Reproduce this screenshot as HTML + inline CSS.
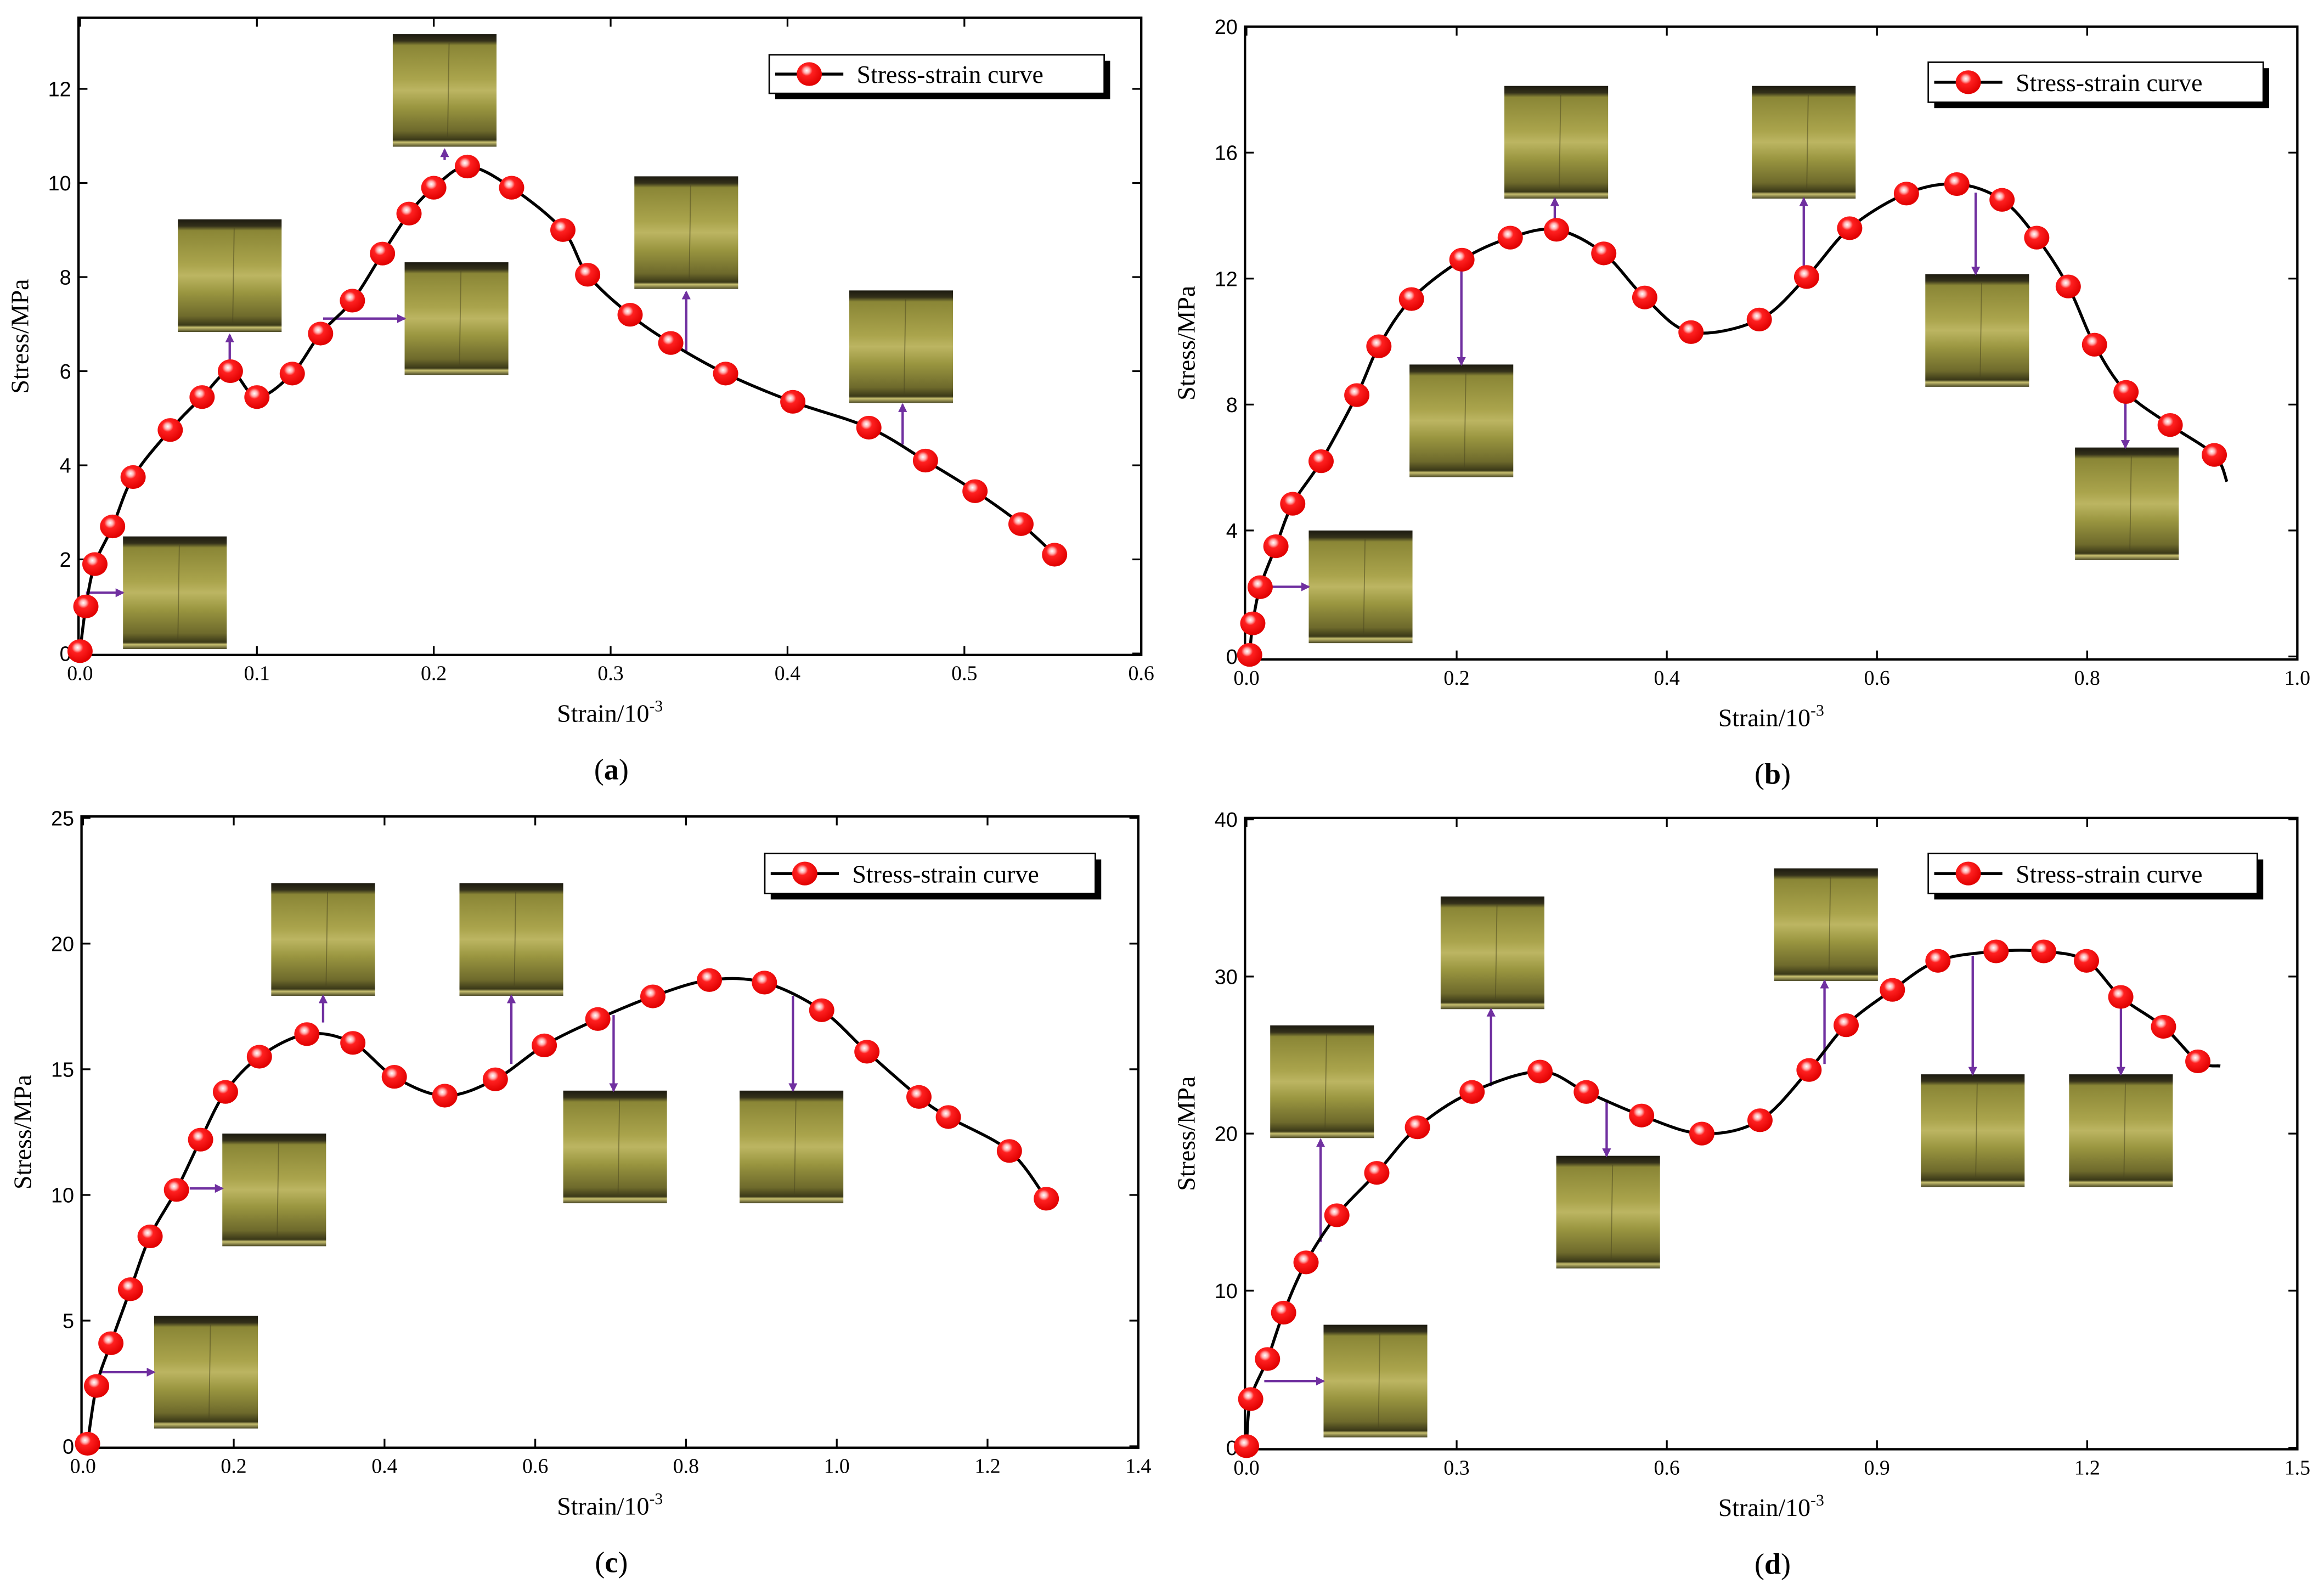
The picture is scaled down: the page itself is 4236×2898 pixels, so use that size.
<!DOCTYPE html>
<html><head><meta charset="utf-8"><title>Stress-strain curves</title>
<style>html,body{margin:0;padding:0;background:#fff;}svg{display:block;}</style></head>
<body>
<svg id="fig" xmlns="http://www.w3.org/2000/svg" width="4236" height="2898" viewBox="0 0 1568 1073" preserveAspectRatio="none">
<defs>
<radialGradient id="ball" cx="0.4" cy="0.35" r="0.65">
<stop offset="0" stop-color="#ffffff"/><stop offset="0.18" stop-color="#ffb0b0"/><stop offset="0.35" stop-color="#ff2020"/><stop offset="1" stop-color="#e00000"/>
</radialGradient>
<linearGradient id="photo" x1="0" y1="0" x2="0" y2="1">
<stop offset="0" stop-color="#1c1a10"/><stop offset="0.06" stop-color="#33301a"/><stop offset="0.1" stop-color="#8a8636"/>
<stop offset="0.4" stop-color="#aaa44c"/><stop offset="0.5" stop-color="#bcb562"/><stop offset="0.65" stop-color="#9a9640"/>
<stop offset="0.86" stop-color="#6e6a2c"/><stop offset="0.94" stop-color="#3a3818"/><stop offset="0.96" stop-color="#c8c070"/><stop offset="1" stop-color="#4a4826"/>
</linearGradient>
<marker id="ah" markerWidth="6" markerHeight="6" refX="5" refY="3" orient="auto" markerUnits="userSpaceOnUse"><path d="M0,0 L6,3 L0,6 z" fill="#7030a0"/></marker>
</defs>
</svg>
<script>
// ---- data ----
const aStrain=[0,0.0033,0.0084,0.0184,0.030,0.051,0.069,0.085,0.100,0.120,0.136,0.154,0.171,0.186,0.200,0.219,0.244,0.273,0.287,0.311,0.334,0.365,0.403,0.446,0.478,0.506,0.532,0.551];
const aStress=[0.05,1.0,1.9,2.7,3.75,4.75,5.45,6.0,5.45,5.95,6.8,7.5,8.5,9.35,9.9,10.35,9.9,9.0,8.05,7.2,6.6,5.95,5.35,4.8,4.1,3.45,2.75,2.1];
const bStrain=[0.003,0.006,0.013,0.028,0.044,0.071,0.105,0.126,0.157,0.205,0.251,0.295,0.340,0.379,0.423,0.488,0.533,0.574,0.628,0.676,0.719,0.752,0.782,0.807,0.837,0.879,0.921];
const bStress=[0.05,1.05,2.2,3.5,4.85,6.2,8.3,9.85,11.35,12.6,13.3,13.55,12.8,11.4,10.3,10.7,12.05,13.6,14.7,15.0,14.5,13.3,11.75,9.9,8.4,7.35,6.4];
const cStrain=[0.006,0.018,0.037,0.063,0.089,0.124,0.156,0.189,0.234,0.297,0.358,0.413,0.480,0.547,0.612,0.683,0.756,0.831,0.904,0.980,1.040,1.109,1.148,1.229,1.278];
const cStress=[0.1,2.4,4.1,6.25,8.35,10.2,12.2,14.1,15.5,16.4,16.05,14.7,13.95,14.6,15.95,17.0,17.9,18.55,18.45,17.35,15.7,13.9,13.1,11.75,9.85];
const dStrain=[0,0.006,0.030,0.053,0.085,0.129,0.186,0.244,0.322,0.419,0.485,0.564,0.650,0.733,0.803,0.856,0.922,0.987,1.070,1.138,1.199,1.248,1.309,1.358];
const dStress=[0.1,3.1,5.65,8.6,11.8,14.8,17.5,20.4,22.65,23.95,22.65,21.15,20.0,20.85,24.05,26.9,29.15,31.0,31.6,31.6,31.0,28.7,26.8,24.6];
const aXTicks=["0.0","0.1","0.2","0.3","0.4","0.5","0.6"];
const aYTicks=["0","2","4","6","8","10","12"];
const bXTicks=["0.0","0.2","0.4","0.6","0.8","1.0"];
const bYTicks=["0","4","8","12","16","20"];
const cXTicks=["0.0","0.2","0.4","0.6","0.8","1.0","1.2","1.4"];
const cYTicks=["0","5","10","15","20","25"];
const dXTicks=["0.0","0.3","0.6","0.9","1.2","1.5"];
const dYTicks=["0","10","20","30","40"];

const NS="http://www.w3.org/2000/svg";
const svg=document.getElementById('fig');
function mk(tag,attrs,parent){const e=document.createElementNS(NS,tag);for(const k in attrs)e.setAttribute(k,attrs[k]);(parent||svg).appendChild(e);return e;}

const panels=[
 {id:'a',L:53,R:770,T:12,B:442,xmax:0.6,y0:441,yTop:60,yTopVal:12,xs:aStrain,ys:aStress,xt:aXTicks,yt:aYTicks,end:null,
  legend:[519,37,226,26],cap:'a',
  photos:[[83,362],[120,148],[265,23],[273,177],[428,119],[573,196]],
  arrows:[[58,400,83,400],[155,246,155,226],[300,108,300,101],[218,215,273,215],[463,237,463,197],[609,300,609,273]]},
 {id:'b',L:840,R:1550,T:18,B:445,xmax:1.0,y0:443,yTop:18,yTopVal:20,xs:bStrain,ys:bStress,xt:bXTicks,yt:bYTicks,end:[0.933,5.55],
  legend:[1301,42,226,27],cap:'b',
  photos:[[883,358],[951,246],[1015,58],[1182,58],[1299,185],[1400,302]],
  arrows:[[850,396,883,396],[986,180,986,246],[1049,150,1049,134],[1217,180,1217,134],[1333,130,1333,185],[1434,270,1434,302]]},
 {id:'c',L:55,R:768,T:551,B:977,xmax:1.4,y0:976,yTop:552,yTopVal:25,xs:cStrain,ys:cStress,xt:cXTicks,yt:cYTicks,end:null,
  legend:[516,576,223,27],cap:'c',
  photos:[[104,888],[150,765],[183,596],[310,596],[380,736],[499,736]],
  arrows:[[68,926,104,926],[128,802,150,802],[218,690,218,672],[345,718,345,672],[414,685,414,736],[535,672,535,736]]},
 {id:'d',L:840,R:1550,T:552,B:978,xmax:1.5,y0:977,yTop:553,yTopVal:40,xs:dStrain,ys:dStress,xt:dXTicks,yt:dYTicks,end:[1.39,24.3],
  legend:[1301,576,222,27],cap:'d',
  photos:[[857,692],[972,605],[1050,780],[1197,586],[1296,725],[1396,725],[893,894]],
  arrows:[[853,932,893,932],[891,838,891,769],[1006,733,1006,681],[1084,742,1084,780],[1231,718,1231,662],[1331,645,1331,725],[1431,665,1431,725]]}
];

panels.forEach(p=>{
 const g=mk('g',{});
 
 
 const x0=p.L+1;
 const X=v=>x0+(p.R-x0)*v/p.xmax;
 const Y=v=>p.y0-(p.y0-p.yTop)*v/p.yTopVal;
 const fr=mk('rect',{x:p.L,y:p.T,width:p.R-p.L,height:p.B-p.T,fill:'none',stroke:'#000','stroke-width':1.6},g);
 
 
 p.xt.forEach(t=>{
  const v=parseFloat(t);const x=X(v);
  mk('line',{x1:x,y1:p.B,x2:x,y2:p.B-6,stroke:'#000','stroke-width':1.2},g);
  mk('line',{x1:x,y1:p.T,x2:x,y2:p.T+6,stroke:'#000','stroke-width':1.2},g);
  const tx=mk('text',{x:x,y:p.B+17,'text-anchor':'middle','font-family':'Liberation Serif, serif','font-size':14},g);
  tx.textContent=t;
  
  
 });
 p.yt.forEach(t=>{
  const v=parseFloat(t);const y=Y(v);
  mk('line',{x1:p.L,y1:y,x2:p.L+6,y2:y,stroke:'#000','stroke-width':1.2},g);
  mk('line',{x1:p.R,y1:y,x2:p.R-6,y2:y,stroke:'#000','stroke-width':1.2},g);
  const ty=mk('text',{x:p.L-5,y:y+5,'text-anchor':'end','font-family':'Liberation Sans, sans-serif','font-size':14},g);
  ty.textContent=t;
  
  
 });
 const cx=(p.L+p.R)/2;
 const xtit=mk('text',{x:cx,y:p.B+45,'text-anchor':'middle','font-family':'Liberation Serif, serif','font-size':17},g);
 xtit.innerHTML='Strain/10<tspan dy="-7" font-size="11">-3</tspan>';
 
 
 const cy=(p.T+p.B)/2;
 const yx=p.L-34;
 const ytit=mk('text',{x:yx,y:cy,'text-anchor':'middle','font-family':'Liberation Serif, serif','font-size':17,transform:`rotate(-90 ${yx} ${cy})`},g);
 ytit.textContent='Stress/MPa';
 
 
 const cap=mk('text',{x:cx+1,y:p.B+84,'text-anchor':'middle','font-family':'Liberation Serif, serif','font-size':20},g);
 cap.innerHTML='(<tspan font-weight="bold">'+p.cap+'</tspan>)';
 
 
 p.photos.forEach(ph=>{
  const r=mk('rect',{x:ph[0],y:ph[1],width:70,height:76,fill:'url(#photo)'},g);
  
  
  mk('line',{x1:ph[0]+38,y1:ph[1]+6,x2:ph[0]+37,y2:ph[1]+70,stroke:'#4a4620','stroke-width':0.7,opacity:0.5},g);
 });
 p.arrows.forEach(a=>{
  const l=mk('line',{x1:a[0],y1:a[1],x2:a[2],y2:a[3],stroke:'#7030a0','stroke-width':1.6,'marker-end':'url(#ah)'},g);
  
  
 });
 const pts=p.xs.map((v,i)=>[X(v),Y(p.ys[i])]);
 if(p.end)pts.push([X(p.end[0]),Y(p.end[1])]);
 let d='M'+pts[0][0]+','+pts[0][1];
 for(let i=0;i<pts.length-1;i++){
  const p0=pts[Math.max(0,i-1)],p1=pts[i],p2=pts[i+1],p3=pts[Math.min(pts.length-1,i+2)];
  const c1=[p1[0]+(p2[0]-p0[0])/6,p1[1]+(p2[1]-p0[1])/6];
  const c2=[p2[0]-(p3[0]-p1[0])/6,p2[1]-(p3[1]-p1[1])/6];
  d+=` C${c1[0]},${c1[1]} ${c2[0]},${c2[1]} ${p2[0]},${p2[1]}`;
 }
 const path=mk('path',{d:d,fill:'none',stroke:'#000','stroke-width':2},g);
 
 
 p.xs.forEach((v,i)=>{
  const c=mk('ellipse',{cx:X(v),cy:Y(p.ys[i]),rx:8.5,ry:8,fill:'url(#ball)'},g);
  
  
 });
 const [lx,ly,lw,lh]=p.legend;
 const lg=mk('g',{},g);
 
 
 mk('rect',{x:lx+4,y:ly+4,width:lw,height:lh,fill:'#000'},lg);
 mk('rect',{x:lx,y:ly,width:lw,height:lh,fill:'#fff',stroke:'#000','stroke-width':1},lg);
 mk('line',{x1:lx+4,y1:ly+lh/2,x2:lx+50,y2:ly+lh/2,stroke:'#000','stroke-width':2},lg);
 mk('ellipse',{cx:lx+27,cy:ly+lh/2,rx:8.5,ry:8,fill:'url(#ball)'},lg);
 const lt=mk('text',{x:lx+59,y:ly+lh/2+6,'font-family':'Liberation Serif, serif','font-size':17},lg);
 lt.textContent='Stress-strain curve';
 
 
});
</script>
</body></html>
